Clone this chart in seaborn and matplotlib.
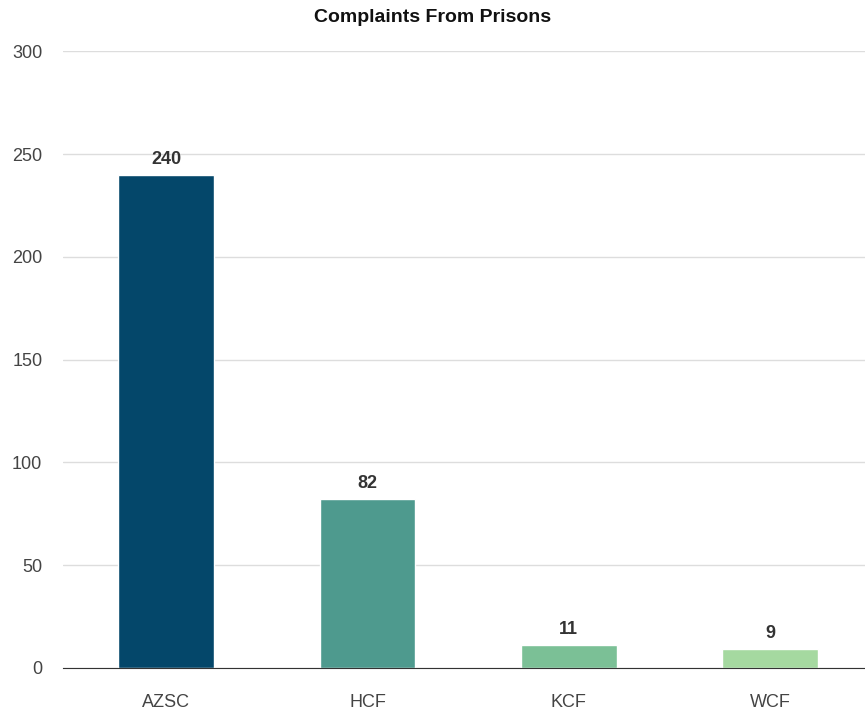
import matplotlib
matplotlib.use('Agg')
import matplotlib.pyplot as plt
import seaborn as sns
import pandas as pd

prisons = ['AZSC', 'HCF', 'KCF', 'WCF']
complaints = [240, 82, 11, 9]
colors = ['#04476A', '#4E9A8E', '#7BC096', '#A5D9A0']

sns.set_style('white')
plt.rcParams['font.family'] = ['Liberation Sans', 'DejaVu Sans']

df = pd.DataFrame({'prison': prisons, 'complaints': complaints})

fig = plt.figure(figsize=(8.65, 7.12), dpi=100)
ax = fig.add_axes([0.073, 0.062, 0.927, 0.866])
sns.barplot(data=df, x='prison', y='complaints', hue='prison', palette=colors,
            width=0.475, legend=False, ax=ax, saturation=1)

for p, v in zip(ax.patches, complaints):
    ax.annotate(str(v), (p.get_x() + p.get_width() / 2, v), xytext=(0, 5),
                textcoords='offset points', ha='center', va='bottom',
                fontsize=13, fontweight='bold', color='#333333')

ax.set_ylim(0, 300)
ax.set_yticks(range(0, 301, 50))
ax.set_xlim(-0.512, 3.472)
ax.yaxis.grid(True, color='#dddddd', linewidth=1)
ax.set_axisbelow(True)
for s in ['left', 'right', 'top']:
    ax.spines[s].set_visible(False)
ax.spines['bottom'].set_color('#333333')
ax.tick_params(axis='y', length=0, pad=15, labelsize=13, labelcolor='#444444')
ax.tick_params(axis='x', length=0, pad=19, labelsize=13, labelcolor='#444444')
ax.set_xlabel('')
ax.set_ylabel('')
fig.text(0.5, 0.975, 'Complaints From Prisons', ha='center', va='center',
         fontsize=14, fontweight='bold', color='#111111')

fig.savefig('out.png', dpi=100)
